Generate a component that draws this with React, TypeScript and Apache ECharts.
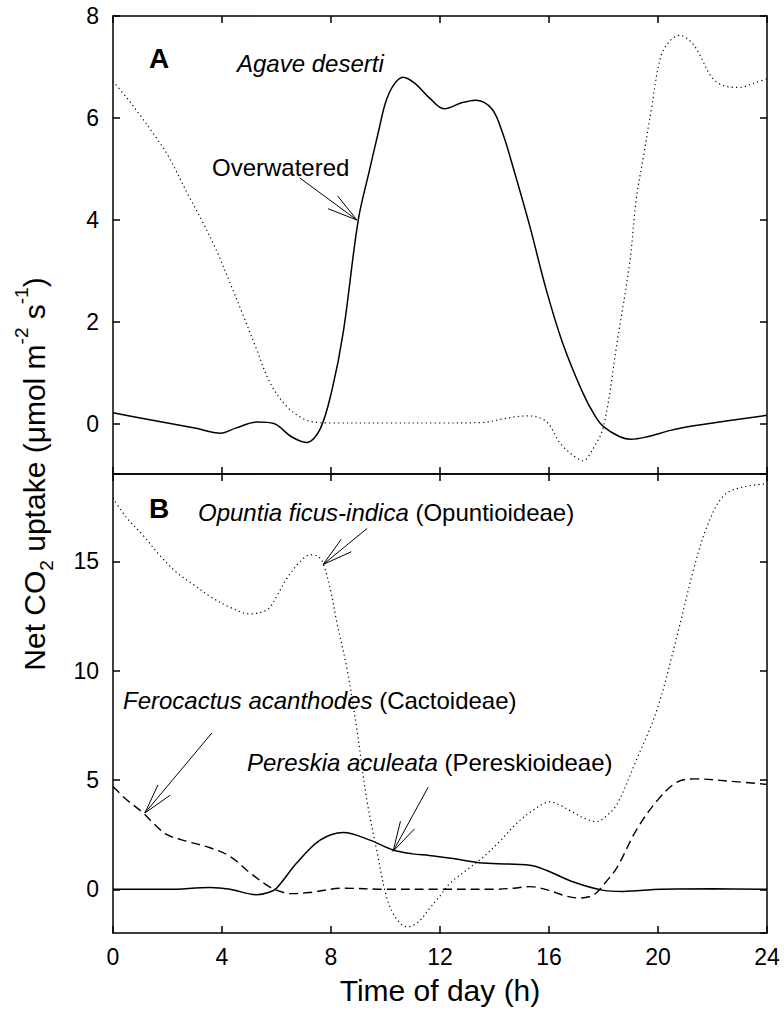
import React, { useEffect, useRef } from "react";
import * as echarts from "echarts";

const hourTicks = [0, 4, 8, 12, 16, 20, 24];
const panelATicks = [0, 2, 4, 6, 8];
const panelBTicks = [0, 5, 10, 15];

// Panel A – Agave deserti
const agaveOverwatered: [number, number][] = [
  [0, 0.22], [1, 0.12], [2, 0.02], [3, -0.08], [3.95, -0.18], [4.5, -0.08], [5.3, 0.04],
  [5.9, 0.01], [6.55, -0.25], [7.1, -0.36], [7.6, -0.1], [8.05, 0.7], [8.45, 1.8], [9.0, 4.0],
  [9.4, 4.95], [9.75, 5.75], [10.0, 6.3], [10.3, 6.65], [10.65, 6.8], [11.1, 6.67], [11.6, 6.4],
  [12.15, 6.18], [12.8, 6.3], [13.3, 6.35], [13.9, 6.18], [14.3, 5.7], [14.7, 5.0],
  [15.3, 3.87], [15.9, 2.63], [16.5, 1.59], [17.25, 0.6], [17.7, 0.15], [18.0, -0.05],
  [18.6, -0.25], [19.0, -0.3], [19.6, -0.25], [20.5, -0.12], [21.5, -0.02], [22.5, 0.06],
  [23.3, 0.12], [24, 0.17],
];
const agaveDotted: [number, number][] = [
  [0, 6.72], [0.5, 6.4], [1, 6.05], [1.5, 5.68], [2, 5.28], [2.8, 4.45], [3.3, 3.95], [3.8, 3.4],
  [4.3, 2.76], [4.8, 2.1], [5.28, 1.45], [5.77, 0.8], [6.38, 0.34], [7.0, 0.1], [7.5, 0.03],
  [8, 0.02], [10, 0.02], [12, 0.02], [13.6, 0.03], [14.3, 0.1], [15.2, 0.16], [15.9, 0.05],
  [16.4, -0.37], [16.9, -0.62], [17.25, -0.72], [17.6, -0.5], [18.0, -0.05], [18.5, 1.6],
  [18.97, 3.2], [19.2, 4.4], [19.5, 5.35], [19.75, 6.15], [20.1, 7.2], [20.45, 7.52],
  [20.8, 7.62], [21.2, 7.5], [21.5, 7.27], [22.0, 6.78], [22.5, 6.62], [23.0, 6.6],
  [23.5, 6.68], [24, 6.77],
];

// Panel B – three subfamilies
const opuntia: [number, number][] = [
  [0, 17.9], [0.5, 17.0], [1.1, 16.2], [1.7, 15.3], [2.33, 14.5], [3.0, 13.9], [3.56, 13.4],
  [4.3, 12.9], [5.03, 12.6], [5.5, 12.7], [5.76, 12.9], [6.05, 13.5], [6.37, 14.2], [6.8, 14.9],
  [7.23, 15.3], [7.5, 15.25], [7.7, 14.95], [8.0, 13.6], [8.2, 12.3], [8.6, 10.0], [8.95, 7.3],
  [9.3, 4.2], [9.7, 1.65], [10.05, -0.4], [10.4, -1.35], [10.8, -1.72], [11.2, -1.5],
  [11.6, -0.9], [12.0, -0.3], [12.37, 0.28], [13.0, 0.9], [13.58, 1.47], [14.2, 2.2],
  [14.8, 3.0], [15.4, 3.6], [16.04, 4.0], [16.4, 3.85], [16.77, 3.6], [17.3, 3.25],
  [17.75, 3.1], [18.1, 3.35], [18.5, 3.9], [19.2, 5.9], [19.96, 8.2], [20.7, 11.6],
  [21.3, 14.6], [21.8, 16.6], [22.4, 18.0], [23.1, 18.4], [24, 18.55],
];
const ferocactus: [number, number][] = [
  [0, 4.7], [0.5, 4.1], [1.1, 3.5], [1.5, 3.0], [1.98, 2.5], [2.7, 2.2], [3.56, 1.9], [4.3, 1.5],
  [5.03, 0.75], [5.76, 0.1], [6.2, -0.12], [6.5, -0.2], [7.2, -0.15], [8.45, 0.05], [10, 0.0],
  [12, 0.0], [14, 0.0], [14.7, 0.05], [15.3, 0.12], [16.0, -0.05], [16.6, -0.3], [17.1, -0.4],
  [17.5, -0.33], [17.75, -0.15], [18.1, 0.35], [18.5, 1.0], [19.2, 2.7], [20.0, 4.1],
  [20.7, 4.9], [21.4, 5.05], [22.6, 4.95], [24, 4.8],
];
const pereskia: [number, number][] = [
  [0, 0], [2, 0.0], [3.56, 0.08], [4.3, 0.0], [5.28, -0.25], [5.7, -0.15], [6.0, 0.05],
  [6.74, 1.2], [7.6, 2.25], [8.45, 2.6], [9.43, 2.25], [10.28, 1.8], [11, 1.62], [11.6, 1.55],
  [12.4, 1.42], [13.58, 1.2], [15.3, 1.1], [15.9, 0.87], [16.9, 0.33], [18, -0.05],
  [18.7, -0.1], [20.1, 0.0], [22, 0.02], [24, 0.0],
];

const FONT = "'Liberation Sans', Arial, Helvetica, sans-serif";

export default function App() {
  const ref = useRef<HTMLDivElement>(null);

  useEffect(() => {
    document.body.style.margin = "0";
    const chart = echarts.init(ref.current!, null, { renderer: "svg" });

    const axisLine = { show: true, onZero: false, lineStyle: { color: "#000", width: 1.5 } };
    const tickStyle = { lineStyle: { color: "#000", width: 1.5 }, length: 7, inside: true };
    const labelStyle = { color: "#000", fontSize: 23, fontFamily: FONT };

    const xBase = (gridIndex: number, position: string, showLabel: boolean) => ({
      type: "value",
      gridIndex,
      position,
      min: hourTicks[0],
      max: hourTicks[hourTicks.length - 1],
      interval: hourTicks[1] - hourTicks[0],
      axisLine,
      axisTick: { show: true, ...tickStyle },
      axisLabel: { show: showLabel, margin: 12, ...labelStyle },
      splitLine: { show: false },
    });
    const yBase = (gridIndex: number, position: string, min: number, max: number, ticks: number[], showLabel: boolean) => ({
      type: "value",
      gridIndex,
      position,
      min,
      max,
      splitNumber: 5,
      axisLine,
      axisTick: { show: true, ...tickStyle },
      axisLabel: {
        show: showLabel,
        margin: 14,
        showMinLabel: false,
        formatter: (v: number) => (ticks.indexOf(Math.round(v * 1000) / 1000) >= 0 ? String(Math.round(v)) : ""),
        ...labelStyle,
      },
      splitLine: { show: false },
    });

    const line = (data: [number, number][], ax: number, dash: any, width: number) => ({
      type: "line",
      data,
      xAxisIndex: ax,
      yAxisIndex: ax,
      smooth: 0.35,
      showSymbol: false,
      symbol: "none",
      silent: true,
      lineStyle: { color: "#000", width, type: dash },
    });

    chart.setOption({
      animation: false,
      backgroundColor: "#fff",
      grid: [
        { left: 113, top: 16, width: 654, height: 458 },
        { left: 113, top: 474, width: 654, height: 459 },
      ],
      xAxis: [
        xBase(0, "bottom", false),
        xBase(1, "bottom", true),
        xBase(0, "top", false),
        xBase(1, "top", false),
      ],
      yAxis: [
        yBase(0, "left", -0.98, 8, panelATicks, true),
        yBase(1, "left", -2, 19, panelBTicks, true),
        yBase(0, "right", -0.98, 8, panelATicks, false),
        yBase(1, "right", -2, 19, panelBTicks, false),
      ],
      series: [
        line(agaveDotted, 0, [1.2, 3.2], 1.2),
        line(agaveOverwatered, 0, "solid", 1.5),
        line(opuntia, 1, [1.2, 3.2], 1.2),
        line(ferocactus, 1, [9, 5], 1.4),
        line(pereskia, 1, "solid", 1.5),
      ],
    });

    const toPx = (grid: number, p: [number, number]) =>
      chart.convertToPixel({ xAxisIndex: grid, yAxisIndex: grid }, p) as number[];

    const arrow = (tip: number[], off: [number, number]) => {
      const tail = [tip[0] + off[0], tip[1] + off[1]];
      const ang = Math.atan2(off[1], off[0]);
      const L = 31;
      const a = (15 * Math.PI) / 180;
      const h1 = [tip[0] + L * Math.cos(ang + a), tip[1] + L * Math.sin(ang + a)];
      const h2 = [tip[0] + L * Math.cos(ang - a), tip[1] + L * Math.sin(ang - a)];
      const st = { stroke: "#000", lineWidth: 1 };
      return [
        { type: "line", shape: { x1: tail[0], y1: tail[1], x2: tip[0], y2: tip[1] }, style: st, silent: true },
        { type: "line", shape: { x1: h1[0], y1: h1[1], x2: tip[0], y2: tip[1] }, style: st, silent: true },
        { type: "line", shape: { x1: h2[0], y1: h2[1], x2: tip[0], y2: tip[1] }, style: st, silent: true },
      ];
    };

    const txt = (x: number, y: number, text: string, extra: any = {}) => ({
      type: "text",
      x,
      y,
      silent: true,
      style: {
        text,
        fill: "#000",
        fontSize: 24,
        fontFamily: FONT,
        verticalAlign: "middle",
        align: "left",
        rich: { i: { fontStyle: "italic", fontSize: 24, fontFamily: FONT, fill: "#000" } },
        ...extra,
      },
    });

    const graphic: any[] = [
      txt(149, 58, "A", { fontWeight: "bold", fontSize: 28 }),
      txt(237, 63, "{i|Agave deserti}"),
      txt(212, 167, "Overwatered"),
      ...arrow(toPx(0, [8.95, 4.0]), [-57, -42]),
      txt(149, 508, "B", { fontWeight: "bold", fontSize: 28 }),
      txt(198, 512, "{i|Opuntia ficus-indica} (Opuntioideae)"),
      ...arrow(toPx(1, [7.71, 14.86]), [44, -36]),
      txt(123, 700, "{i|Ferocactus acanthodes} (Cactoideae)"),
      ...arrow(toPx(1, [1.17, 3.49]), [67, -80]),
      txt(247, 762, "{i|Pereskia aculeata} (Pereskioideae)"),
      ...arrow(toPx(1, [10.28, 1.74]), [35, -64]),
      {
        type: "text",
        x: 440,
        y: 990,
        silent: true,
        style: {
          text: "Time of day (h)",
          fill: "#000",
          fontSize: 30,
          fontFamily: FONT,
          align: "center",
          verticalAlign: "middle",
        },
      },
      {
        type: "text",
        x: 34,
        y: 474,
        rotation: Math.PI / 2,
        silent: true,
        style: {
          text: "{n|Net CO}{sub|2}{n| uptake (μmol m}{sup|-2}{n| s}{sup|-1}{n|)}",
          fill: "#000",
          fontFamily: FONT,
          fontSize: 30,
          align: "center",
          verticalAlign: "middle",
          rich: {
            n: { fontSize: 30, lineHeight: 44, verticalAlign: "middle", fontFamily: FONT, fill: "#000" },
            sub: { fontSize: 19, lineHeight: 19, verticalAlign: "bottom", fontFamily: FONT, fill: "#000" },
            sup: { fontSize: 19, lineHeight: 19, verticalAlign: "top", fontFamily: FONT, fill: "#000" },
          },
        },
      },
    ];

    chart.setOption({ graphic });

    return () => chart.dispose();
  }, []);

  return <div ref={ref} style={{ width: 784, height: 1025 }} />;
}
